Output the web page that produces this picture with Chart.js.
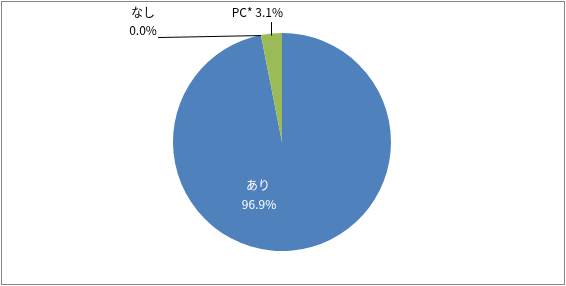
<!DOCTYPE html>
<html>
<head>
    <meta charset="UTF-8">
    <script src="https://cdn.jsdelivr.net/npm/chart.js@4"></script>
    <style>
        body {
            margin: 0;
            background: #ffffff;
        }
        .chart-box {
            position: relative;
            width: 566px;
            height: 286px;
        }
        .chart-box::after {
            content: "";
            position: absolute;
            left: 1px;
            top: 1px;
            width: 562px;
            height: 282px;
            border: 1px solid #868686;
            pointer-events: none;
        }
    </style>
</head>
<body>

<div class="chart-box">
    <canvas id="pieChart" width="566" height="286"></canvas>
</div>

<script>
// data
const categories = ['あり', 'なし', 'PC*'];
const shares = [96.9, 0.0, 3.1];
const sliceColors = ['#4F81BD', '#C0504D', '#9BBB59'];

const labelFont = '12px "Noto Sans CJK JP", "Noto Sans", sans-serif';

// draws Excel-like data labels with leader lines
const pieLabels = {
    id: 'pieLabels',
    afterDraw(chart) {
        const ctx = chart.ctx;
        const arcs = chart.getDatasetMeta(0).data;
        ctx.save();
        ctx.font = labelFont;
        ctx.textBaseline = 'middle';

        arcs.forEach(function (arc, i) {
            const p = arc.getProps(['x', 'y', 'startAngle', 'endAngle', 'outerRadius'], true);
            const txt = shares[i].toFixed(1) + '%';
            const mid = (p.startAngle + p.endAngle) / 2;
            const ex = p.x + Math.cos(mid) * p.outerRadius;
            const ey = p.y + Math.sin(mid) * p.outerRadius;

            if (i === 0) {
                // inside label
                ctx.fillStyle = '#ffffff';
                ctx.textAlign = 'center';
                ctx.fillText(categories[i], p.x - 24, p.y + 43);
                ctx.fillText(txt, p.x - 23, p.y + 62);
            } else if (i === 1) {
                // zero slice: label to the upper left
                ctx.strokeStyle = '#000000';
                ctx.lineWidth = 1;
                ctx.beginPath();
                ctx.moveTo(ex, ey + 0.5);
                ctx.lineTo(158, ey + 2.5);
                ctx.stroke();
                ctx.fillStyle = '#000000';
                ctx.textAlign = 'center';
                ctx.fillText(categories[i], 143, 12);
                ctx.fillText(txt, 143, 30);
            } else {
                ctx.strokeStyle = '#000000';
                ctx.lineWidth = 1;
                ctx.beginPath();
                ctx.moveTo(Math.round(ex) + 0.5, ey + 2);
                ctx.lineTo(Math.round(ex) + 0.5, 22);
                ctx.stroke();
                ctx.fillStyle = '#000000';
                ctx.textAlign = 'center';
                ctx.fillText(categories[i] + ' ' + txt, ex - 14, 12);
            }
        });
        ctx.restore();
    }
};

new Chart(document.getElementById('pieChart'), {
    type: 'pie',
    data: {
        labels: categories,
        datasets: [{
            data: shares,
            backgroundColor: sliceColors,
            borderWidth: 0
        }]
    },
    options: {
        responsive: false,
        animation: false,
        layout: {
            padding: { left: 173, right: 175, top: 33, bottom: 35 }
        },
        plugins: {
            legend: { display: false },
            tooltip: { enabled: false }
        }
    },
    plugins: [pieLabels]
});
</script>

</body>
</html>
